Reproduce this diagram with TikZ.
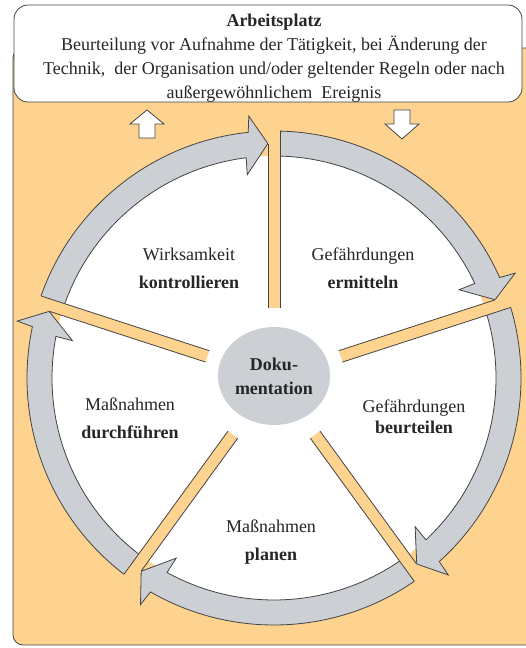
\documentclass[tikz,border=0pt]{standalone}
\usepackage{fontspec}
\setmainfont{Liberation Serif}
\usepackage{xcolor}
\usepackage{tikz}
\usetikzlibrary{
  positioning,
  calc
}

\definecolor{bgorange}{RGB}{253,211,143}
\definecolor{ringgray}{RGB}{204,207,211}
\definecolor{edgegray}{RGB}{68,68,68}

\tikzset{
  ringarrow/.style={fill=ringgray,draw=edgegray,line width=0.8pt},
  spokeedge/.style={draw=edgegray,line width=0.8pt},
  blockarrow/.style={fill=white,draw=edgegray,line width=0.8pt},
  steptext/.style={align=center,text=black!85,font=\fontsize{18}{28}\selectfont}
}

\begin{document}
\begin{tikzpicture}[x=1pt,y=1pt]
  \useasboundingbox (0,0) rectangle (526,648);

  % 背景
  \draw[fill=bgorange,draw=edgegray,line width=0.8pt,rounded corners=10] (13,3) rectangle (560,600);
  % 上の枠
  \draw[fill=white,draw=edgegray,line width=0.8pt,rounded corners=14] (14,546) rectangle (522,643);
  \node[align=center,text=black!85,font=\fontsize{18}{24}\selectfont] (platz) at (274,590)
    {\textbf{Arbeitsplatz}\\Beurteilung vor Aufnahme der Tätigkeit, bei Änderung der\\
     Technik,\ \ der Organisation und/oder geltender Regeln oder nach\\außergewöhnlichem\ \ Ereignis};

  % 上下の矢印
  \draw[blockarrow] (139,510) -- (139,524) -- (130,524) -- (147,538) -- (164,524) -- (155,524) -- (155,510) -- cycle;
  \draw[blockarrow] (394,538) -- (394,524) -- (385,524) -- (402,509) -- (419,524) -- (410,524) -- (410,538) -- cycle;

  \begin{scope}[shift={(274,270)}]
    % 白い円
    \fill[white] (0,0) circle[radius=222];
    % 円周の矢印
    \foreach \s in {90,18,-54,-126,-198}
      \draw[ringarrow] (\s:247) arc[start angle=\s,end angle=\s-66,radius=247]
        -- ({\s-66.5}:263) -- ({\s-70.5}:234.5) -- ({\s-64.5}:205)
        -- ({\s-64.8}:222) arc[start angle=\s-64.8,end angle=\s,radius=222] -- cycle;
    % 仕切り
    \foreach \s in {90,18,-54,-126,-198}{
      \begin{scope}[rotate=\s]
        \fill[bgorange] (70,-6) rectangle (248,6);
        \draw[spokeedge] (70,-6) -- (247,-6);
        \draw[spokeedge] (70,6) -- (234.4,6);
      \end{scope}
    }
    % 中央
    \fill[ringgray] (0,2) ellipse[x radius=56,y radius=49];
    \node[align=center,text=black!85,font=\bfseries\fontsize{18}{24}\selectfont] (doku) at (0,2) {Doku-\\mentation};

    % 各段階
    \node[steptext] (kontrollieren) at (-85,110) {Wirksamkeit\\\textbf{kontrollieren}};
    \node[steptext] (ermitteln) at (89,110) {Gefährdungen\\\textbf{ermitteln}};
    \node[steptext,font=\fontsize{18}{21}\selectfont] (beurteilen) at (140,-39) {Gefährdungen\\\textbf{beurteilen}};
    \node[steptext] (planen) at (-3,-164) {Maßnahmen\\\textbf{planen}};
    \node[steptext] (durchfuehren) at (-144,-40) {Maßnahmen\\\textbf{durchführen}};
  \end{scope}
\end{tikzpicture}
\end{document}
